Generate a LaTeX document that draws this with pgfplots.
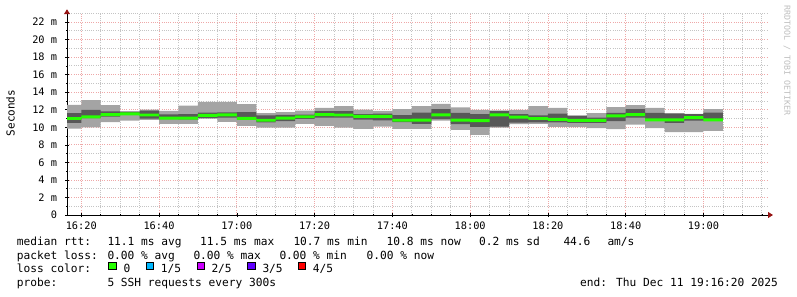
\documentclass[border=0pt]{standalone}
\usepackage{fontspec}
\setmainfont{DejaVu Sans Mono}
\usepackage{pgfplots}
\pgfplotsset{compat=1.18}
\usepackage{pgfplotstable}
\usepgfplotslibrary{fillbetween}
\usetikzlibrary{arrows.meta}

\definecolor{smokeL}{HTML}{A4A4A4}
\definecolor{smokeD}{HTML}{585858}
\definecolor{med0}{HTML}{26FF00}
\definecolor{lc1}{HTML}{00B8FF}
\definecolor{lc2}{HTML}{CC00FF}
\definecolor{lc3}{HTML}{6000FF}
\definecolor{lc4}{HTML}{FF0000}
\definecolor{mgrid}{RGB}{238,168,168}
\definecolor{ngrid}{RGB}{196,196,196}
\definecolor{arrowred}{RGB}{150,20,20}
\definecolor{wmark}{RGB}{190,190,190}

% minutes after 16:00 ; values in ms
\pgfplotstableread{
t      mn     q2     md     q4     mx
16.333 9.85   10.50  11.00  11.60  12.55
20     10.00  11.05  11.18  11.97  13.10
25     10.60  11.20  11.45  11.80  12.53
30     10.75  11.40  11.52  11.72  11.85
35     10.85  11.00  11.40  11.90  12.00
40     10.38  10.92  11.05  11.47  11.88
45     10.40  10.90  11.05  11.50  12.46
50     10.98  11.05  11.35  11.66  12.90
55     10.62  11.10  11.42  11.70  12.90
60     10.15  10.90  11.02  11.73  12.65
65     9.95   10.55  10.80  11.35  11.62
70     9.95   10.70  11.05  11.40  11.72
75     10.38  10.95  11.20  11.45  11.89
80     10.17  11.10  11.45  11.85  12.20
85     9.96   11.10  11.40  11.85  12.42
90     9.82   10.88  11.25  11.50  12.02
95     10.07  10.78  11.25  11.57  11.87
100    9.82   10.60  10.80  11.38  12.06
105    9.82   10.40  10.82  11.68  12.42
110    10.75  10.92  11.42  12.08  12.68
115    9.70   10.35  10.82  11.65  12.28
120    9.14   10.06  10.77  11.50  11.98
125    9.96   10.08  11.42  11.85  11.92
130    10.37  10.54  11.15  11.49  11.98
135    10.40  10.55  11.00  11.35  12.40
140    10.04  10.55  10.90  11.55  12.20
145    10.02  10.50  10.78  11.30  11.37
150    9.90   10.50  10.78  11.10  11.62
155    9.80   10.70  11.30  11.64  12.30
160    10.30  11.10  11.45  12.08  12.53
165    9.90   10.72  10.85  11.65  12.20
170    9.45   10.50  10.85  11.56  11.60
175    9.45   10.75  11.10  11.50  11.52
180    9.60   10.75  10.85  11.66  12.08
185    9.60   10.75  10.85  11.66  12.08
}\smoke

\begin{document}
\begin{tikzpicture}
\begin{axis}[
  at={(67bp,-215bp)}, anchor=south west,
  scale only axis, width=700bp, height=201.77bp,
  xmin=16.333, xmax=196.333, ymin=0, ymax=23,
  axis lines=left,
  axis line style={black, line width=0.8bp},
  x axis line style={-{Triangle[length=5bp,width=6bp,color=arrowred]}, shorten >=-6bp},
  y axis line style={-{Triangle[length=5bp,width=6bp,color=arrowred]}, shorten >=-4bp},
  xtick={20,40,...,180},
  xticklabels={16:20,16:40,17:00,17:20,17:40,18:00,18:20,18:40,19:00},
  minor xtick={25,30,35,45,50,55,65,70,75,85,90,95,105,110,115,125,130,135,145,150,155,165,170,175,185,190,195},
  ytick={0,2,...,22},
  yticklabels={{0\hspace{12.4bp}},2 m,4 m,6 m,8 m,10 m,12 m,14 m,16 m,18 m,20 m,22 m},
  minor ytick={1,3,...,23},
  grid=both,
  major grid style={mgrid, dash pattern=on 1bp off 1.2bp, line width=0.8bp},
  minor grid style={ngrid, dash pattern=on 1bp off 1.2bp, line width=0.8bp},
  tick align=center, major tick length=4bp, minor tick length=2bp,
  tick style={black, line width=0.6bp},
  ticklabel style={font=\fontsize{10.3bp}{12bp}\selectfont, inner sep=0pt},
  xticklabel shift=5bp,
  yticklabel shift=7.7bp,
]
\addplot[name path=mn, draw=none, const plot mark left] table[x=t,y=mn]{\smoke};
\addplot[name path=q2, draw=none, const plot mark left] table[x=t,y=q2]{\smoke};
\addplot[name path=q4, draw=none, const plot mark left] table[x=t,y=q4]{\smoke};
\addplot[name path=mx, draw=none, const plot mark left] table[x=t,y=mx]{\smoke};
\addplot[name path=ml, draw=none, const plot mark left] table[x=t,y expr=\thisrow{md}-0.17]{\smoke};
\addplot[name path=mh, draw=none, const plot mark left] table[x=t,y expr=\thisrow{md}+0.17]{\smoke};
\addplot[fill=smokeL, draw=none] fill between[of=mn and mx];
\addplot[fill=smokeD, draw=none] fill between[of=q2 and q4];
\addplot[fill=med0, draw=none] fill between[of=ml and mh];
\end{axis}

\node[rotate=90, font=\fontsize{11bp}{13bp}\selectfont] at (10.5bp,-113bp) {Seconds};
\node[rotate=-90, anchor=west, inner sep=0pt, text=wmark, font=\fontsize{8.3bp}{10bp}\selectfont] at (787bp,-5bp) {RRDTOOL / TOBI OETIKER};

\begin{scope}[every node/.style={anchor=base west, inner sep=0pt, font=\fontsize{11.2bp}{13bp}\selectfont}]
\node at (16.7bp,-245bp) {median rtt:};
\node at (107.3bp,-245bp) {11.1 ms avg};
\node at (200bp,-245bp) {11.5 ms max};
\node at (293.3bp,-245bp) {10.7 ms min};
\node at (386.5bp,-245bp) {10.8 ms now};
\node at (479bp,-245bp) {0.2 ms sd};
\node at (563.3bp,-245bp) {44.6};
\node at (607.3bp,-245bp) {am/s};

\node at (16.7bp,-259bp) {packet loss:};
\node at (107.3bp,-259bp) {0.00 \% avg};
\node at (193.3bp,-259bp) {0.00 \% max};
\node at (279.3bp,-259bp) {0.00 \% min};
\node at (366.5bp,-259bp) {0.00 \% now};

\node at (16.7bp,-272.5bp) {loss color:};
\node at (123.3bp,-272.5bp) {0};
\node at (160.7bp,-272.5bp) {1/5};
\node at (211.3bp,-272.5bp) {2/5};
\node at (262.3bp,-272.5bp) {3/5};
\node at (312.7bp,-272.5bp) {4/5};

\node at (16.7bp,-286bp) {probe:};
\node at (107.3bp,-286bp) {5 SSH requests every 300s};
\node at (580bp,-286bp) {end: Thu Dec 11 19:16:20 2025};
\end{scope}

\foreach \xx/\cc in {108.7/med0,146.3/lc1,197/lc2,247.7/lc3,298.3/lc4}{
  \filldraw[fill=\cc, draw=black, line width=0.8bp] (\xx bp,-262bp) rectangle ++(7.3bp,-7.3bp);
}
\pgfresetboundingbox
\useasboundingbox (0,0) rectangle (797bp,-297bp);
\end{tikzpicture}
\end{document}
